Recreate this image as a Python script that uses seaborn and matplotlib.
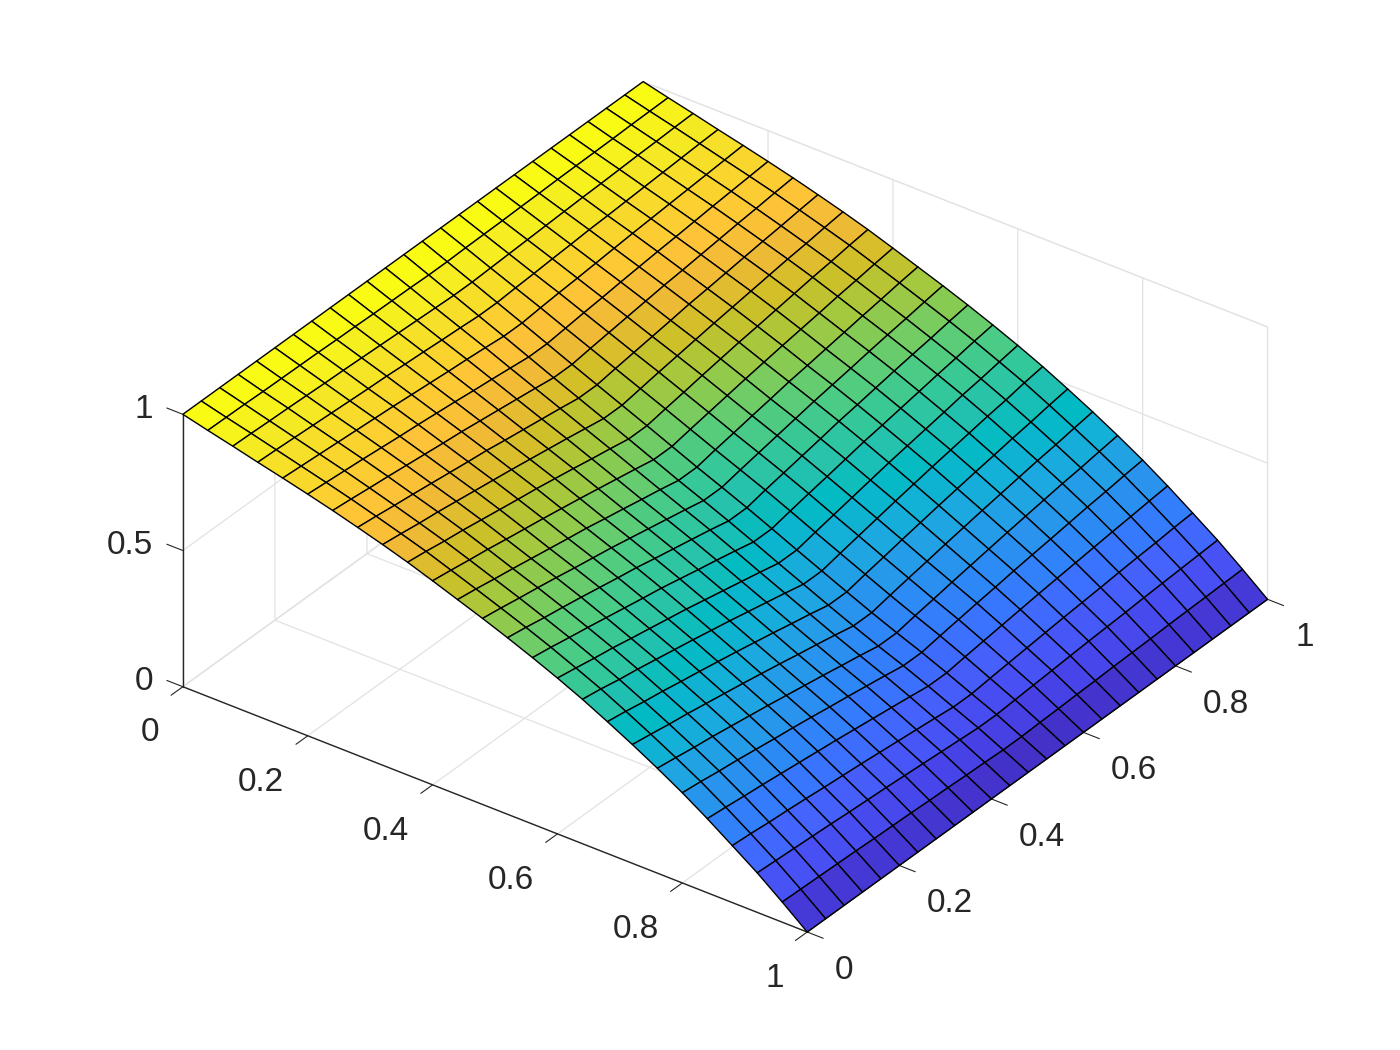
import numpy as np
import matplotlib
matplotlib.use('Agg')
import matplotlib.pyplot as plt
from mpl_toolkits.mplot3d import proj3d
import seaborn as sns

x_values = [0, 0.04, 0.08, 0.12, 0.16, 0.2, 0.24, 0.28, 0.32, 0.36, 0.4, 0.44, 0.48,
            0.52, 0.56, 0.6, 0.64, 0.68, 0.72, 0.76, 0.8, 0.84, 0.88, 0.92, 0.96, 1]
y_values = [0, 0.04, 0.08, 0.12, 0.16, 0.2, 0.24, 0.28, 0.32, 0.36, 0.4, 0.44, 0.48,
            0.52, 0.56, 0.6, 0.64, 0.68, 0.72, 0.76, 0.8, 0.84, 0.88, 0.92, 0.96, 1]

# one row per x value
z_values = [
    [1.000, 1.000, 1.000, 1.000, 1.000, 1.000, 1.000, 1.000, 1.000, 1.000, 1.000, 1.000, 1.000, 1.000, 1.000, 1.000, 1.000, 1.000, 1.000, 1.000, 1.000, 1.000, 1.000, 1.000, 1.000, 1.000],
    [.977, .976, .975, .973, .972, .971, .970, .968, .967, .965, .964, .963, .961, .961, .963, .964, .965, .967, .968, .970, .971, .972, .973, .975, .976, .977],
    [.955, .953, .950, .948, .945, .942, .940, .937, .934, .931, .928, .925, .922, .922, .925, .928, .931, .934, .937, .940, .942, .945, .948, .950, .953, .955],
    [.932, .929, .925, .921, .917, .913, .909, .906, .901, .897, .892, .888, .883, .883, .888, .892, .897, .901, .906, .909, .913, .917, .921, .925, .929, .932],
    [.910, .905, .900, .895, .890, .885, .880, .874, .868, .862, .857, .851, .844, .844, .851, .857, .862, .868, .874, .880, .885, .890, .895, .900, .905, .910],
    [.887, .881, .875, .869, .862, .855, .849, .842, .835, .827, .820, .812, .804, .804, .812, .820, .827, .835, .842, .849, .855, .862, .869, .875, .881, .887],
    [.863, .856, .848, .841, .833, .825, .817, .810, .801, .792, .783, .774, .764, .764, .774, .783, .792, .801, .810, .817, .825, .833, .841, .848, .856, .863],
    [.837, .829, .820, .812, .803, .794, .785, .777, .766, .756, .746, .736, .725, .725, .736, .746, .756, .766, .777, .785, .794, .803, .812, .820, .829, .837],
    [.810, .801, .791, .783, .773, .763, .753, .743, .732, .721, .710, .698, .686, .686, .698, .710, .721, .732, .743, .753, .763, .773, .783, .791, .801, .810],
    [.781, .772, .761, .752, .741, .730, .719, .709, .697, .685, .672, .660, .647, .647, .660, .672, .685, .697, .709, .719, .730, .741, .752, .761, .772, .781],
    [.749, .739, .728, .718, .706, .695, .684, .672, .660, .647, .634, .621, .607, .607, .621, .634, .647, .660, .672, .684, .695, .706, .718, .728, .739, .749],
    [.716, .706, .694, .683, .671, .659, .647, .636, .622, .609, .595, .582, .567, .567, .582, .595, .609, .622, .636, .647, .659, .671, .683, .694, .706, .716],
    [.683, .672, .660, .649, .637, .624, .612, .600, .586, .572, .558, .544, .529, .529, .544, .558, .572, .586, .600, .612, .624, .637, .649, .660, .672, .683],
    [.648, .637, .624, .613, .601, .588, .575, .563, .548, .534, .520, .506, .490, .490, .506, .520, .534, .548, .563, .575, .588, .601, .613, .624, .637, .648],
    [.611, .600, .587, .575, .562, .549, .536, .524, .509, .494, .480, .465, .449, .449, .465, .480, .494, .509, .524, .536, .549, .562, .575, .587, .600, .611],
    [.572, .560, .547, .536, .522, .509, .496, .483, .468, .453, .438, .423, .407, .407, .423, .438, .453, .468, .483, .496, .509, .522, .536, .547, .560, .572],
    [.530, .519, .505, .494, .481, .468, .455, .441, .427, .412, .397, .382, .366, .366, .382, .397, .412, .427, .441, .455, .468, .481, .494, .505, .519, .530],
    [.484, .473, .460, .449, .436, .424, .411, .398, .384, .370, .355, .341, .325, .325, .341, .355, .370, .384, .398, .411, .424, .436, .449, .460, .473, .484],
    [.436, .425, .413, .403, .391, .379, .367, .354, .341, .327, .314, .300, .285, .285, .300, .314, .327, .341, .354, .367, .379, .391, .403, .413, .425, .436],
    [.385, .375, .364, .355, .344, .333, .322, .310, .298, .286, .273, .261, .247, .247, .261, .273, .286, .298, .310, .322, .333, .344, .355, .364, .375, .385],
    [.331, .323, .313, .305, .295, .285, .276, .266, .255, .245, .234, .223, .211, .211, .223, .234, .245, .255, .266, .276, .285, .295, .305, .313, .323, .331],
    [.272, .265, .257, .250, .242, .234, .226, .218, .209, .200, .191, .182, .172, .172, .182, .191, .200, .209, .218, .226, .234, .242, .250, .257, .265, .272],
    [.209, .204, .197, .192, .186, .179, .173, .167, .160, .153, .146, .139, .131, .131, .139, .146, .153, .160, .167, .173, .179, .186, .192, .197, .204, .209],
    [.145, .141, .137, .133, .129, .124, .120, .116, .111, .106, .101, .096, .091, .091, .096, .101, .106, .111, .116, .120, .124, .129, .133, .137, .141, .145],
    [.074, .072, .070, .068, .066, .063, .061, .059, .056, .054, .051, .049, .046, .046, .049, .051, .054, .056, .059, .061, .063, .066, .068, .070, .072, .074],
    [0, 0, 0, 0, 0, 0, 0, 0, 0, 0, 0, 0, 0, 0, 0, 0, 0, 0, 0, 0, 0, 0, 0, 0, 0, 0],
]

xy_ticks = [0, 0.2, 0.4, 0.6, 0.8, 1]
xy_tick_labels = ['0', '0.2', '0.4', '0.6', '0.8', '1']
z_ticks = [0, 0.5, 1]
z_tick_labels = ['0', '0.5', '1']

# parula anchors
parula = [
    (0.2422, 0.1504, 0.6603), (0.2647, 0.1978, 0.7952), (0.2783, 0.2559, 0.8991),
    (0.2810, 0.3228, 0.9579), (0.2699, 0.3892, 0.9906), (0.2206, 0.4603, 0.9973),
    (0.1786, 0.5289, 0.9682), (0.1540, 0.5902, 0.9218), (0.1248, 0.6459, 0.8883),
    (0.0689, 0.6948, 0.8394), (0.0067, 0.7312, 0.7660), (0.1408, 0.7584, 0.6842),
    (0.2161, 0.7843, 0.5923), (0.3406, 0.8008, 0.4789), (0.5044, 0.7993, 0.3480),
    (0.6720, 0.7793, 0.2227), (0.8203, 0.7498, 0.1535), (0.9393, 0.7288, 0.2100),
    (0.9970, 0.7659, 0.2199), (0.9786, 0.8386, 0.1766), (0.9597, 0.9135, 0.1423),
    (0.9769, 0.9839, 0.0805),
]

sns.set_style('white')
plt.rcParams['font.family'] = ['Liberation Sans', 'DejaVu Sans']
plt.rcParams['grid.color'] = '#e2e2e2'
plt.rcParams['grid.linewidth'] = 0.9

cmap = sns.blend_palette(parula, as_cmap=True)

X, Y = np.meshgrid(x_values, y_values, indexing='ij')
Z = np.array(z_values)

fig = plt.figure(figsize=(14, 10.5), dpi=100)
ax = fig.add_axes([11 / 1400, 4 / 1050, 1, 1], projection='3d', proj_type='ortho')
ax.view_init(elev=32.2, azim=-53.6)
ax.set_box_aspect((1, 1, 0.415), zoom=1.057)

# flat colouring from the first corner of each cell
surf = ax.plot_surface(X, Y, Z, rstride=1, cstride=1, facecolors=cmap(Z), shade=False,
                       edgecolor='black', linewidth=1.0, antialiased=True)
surf.set_clip_on(False)

ax.set_xlim(0, 1, view_margin=0)
ax.set_ylim(0, 1, view_margin=0)
ax.set_zlim(0, 1, view_margin=0)
ax.set_xticks(xy_ticks, xy_tick_labels, ha='right', va='top')
ax.set_yticks(xy_ticks, xy_tick_labels, ha='left', va='top')
ax.set_zticks(z_ticks, [''] * len(z_ticks))

# z axis on the left corner, ticks along x like the original
ax.zaxis.set_ticks_position('lower')
ax.zaxis._get_tickdir = lambda pos: 0

for axis in (ax.xaxis, ax.yaxis, ax.zaxis):
    axis.pane.set_facecolor((1, 1, 1, 0))
    axis.pane.set_edgecolor('#e2e2e2')
    axis.line.set_color('#262626')
    axis.line.set_linewidth(1.0)
    axis._axinfo['tick']['inward_factor'] = 0.32
    axis._axinfo['tick']['outward_factor'] = 0
ax.zaxis._axinfo['tick']['inward_factor'] = 0
ax.zaxis._axinfo['tick']['outward_factor'] = 0.32

ax.tick_params(colors='#262626', labelsize=24, width=1.0)
ax.tick_params(axis='x', pad=12)
ax.tick_params(axis='y', pad=9.5)

# native z labels can't sit above the tick, so place them from the projected tick
for z, label in zip(z_ticks, z_tick_labels):
    px, py, _ = proj3d.proj_transform(0, 0, z, ax.get_proj())
    ax.annotate(label, (px, py), xytext=(-21.5, 3.5), textcoords='offset points',
                ha='right', va='center', fontsize=24, color='#262626', annotation_clip=False)

fig.savefig('out.png', dpi=100)
